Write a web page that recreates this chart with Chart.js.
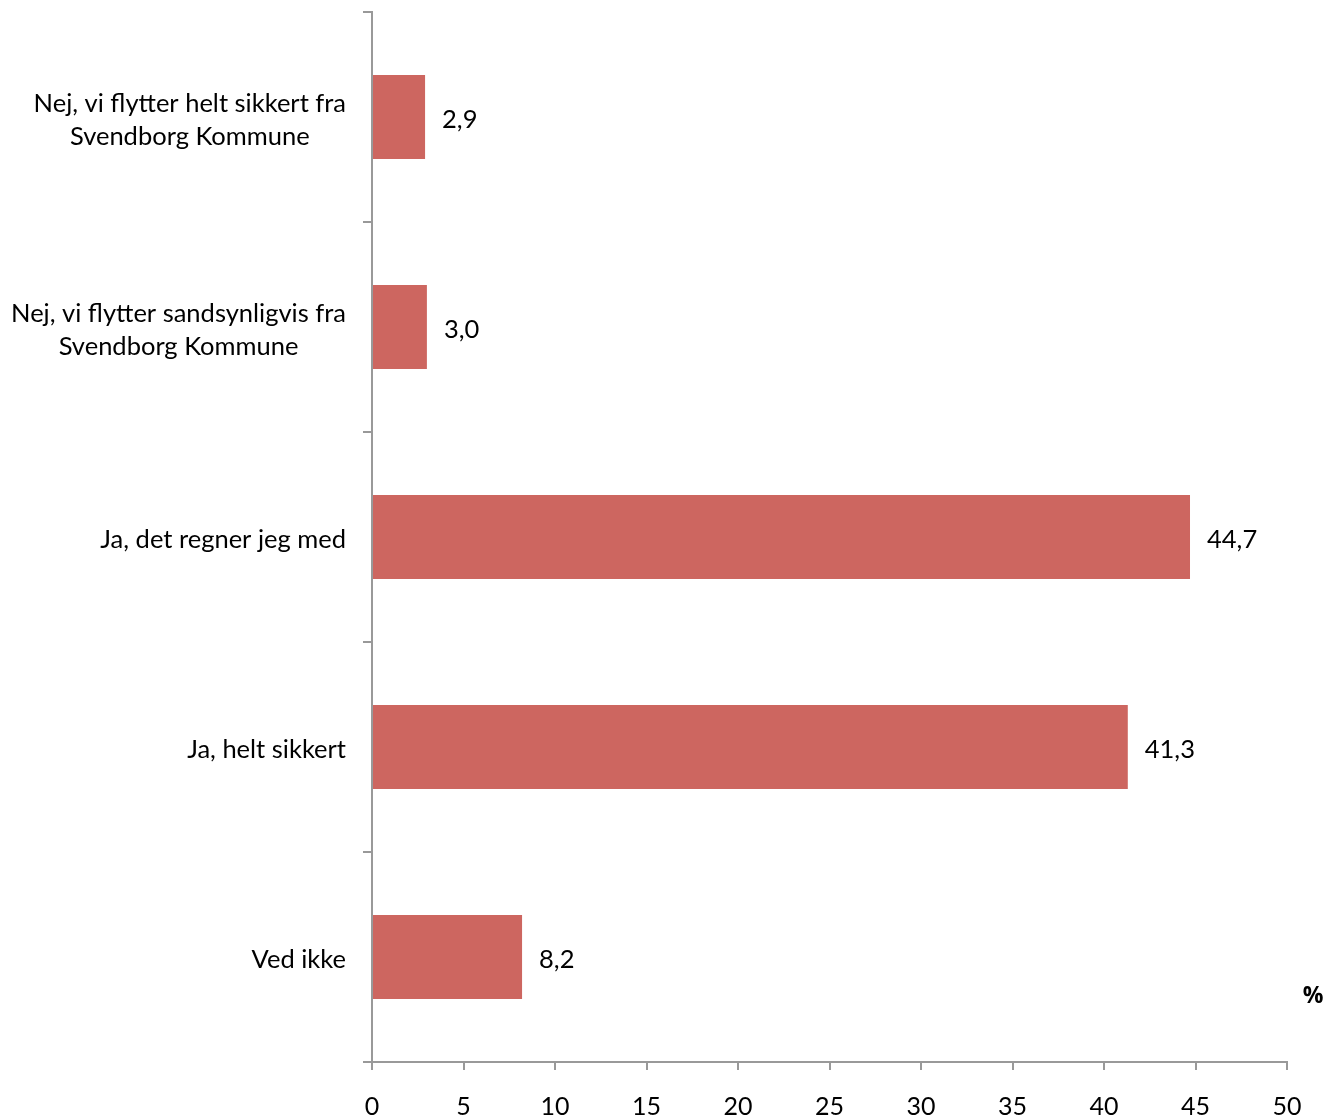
<!DOCTYPE html>
<html>
<head>
<meta charset="utf-8">
<script src="https://cdn.jsdelivr.net/npm/chart.js@4"></script>
<style>
html,body{margin:0;padding:0;background:#fff;}
#wrap{position:relative;width:1327px;height:1120px;}
</style>
</head>
<body>
<div id="wrap"><canvas id="c" width="1327" height="1120"></canvas></div>
<script>
const categories = [
  ["Nej, vi flytter helt sikkert fra", "Svendborg Kommune"],
  ["Nej, vi flytter sandsynligvis fra", "Svendborg Kommune"],
  ["Ja, det regner jeg med"],
  ["Ja, helt sikkert"],
  ["Ved ikke"]
];
const values = [2.9, 3.0, 44.7, 41.3, 8.2];
const xTicks = [0, 5, 10, 15, 20, 25, 30, 35, 40, 45, 50];
const unitLabel = "%";

const FONT = "Lato, 'Open Sans', sans-serif";
const AXIS = "#999999";
const BAR = "#CD6660";

const fmt = v => v.toFixed(1).replace('.', ',');

const labelPlugin = {
  id: 'labels',
  afterDraw(chart) {
    const ctx = chart.ctx;
    const y = chart.scales.y;
    ctx.save();
    ctx.fillStyle = '#000';
    ctx.font = "25.5px " + FONT;
    ctx.textBaseline = 'middle';
    const lh = 33;
    categories.forEach((lines, i) => {
      const cy = y.getPixelForValue(i) + 3;
      let maxW = 0;
      lines.forEach(l => { maxW = Math.max(maxW, ctx.measureText(l).width); });
      const cx = 346 - maxW / 2;
      ctx.textAlign = 'center';
      lines.forEach((l, j) => {
        const off = (j - (lines.length - 1) / 2) * lh;
        ctx.fillText(l, cx, cy + off);
      });
    });
    // value labels
    const meta = chart.getDatasetMeta(0);
    ctx.textAlign = 'left';
    meta.data.forEach((bar, i) => {
      ctx.fillText(fmt(values[i]), bar.x + 17, bar.y + 3);
    });
    // unit label
    ctx.font = "bold 23px 'Open Sans', 'DejaVu Sans', sans-serif";
    ctx.textAlign = 'center';
    ctx.fillText(unitLabel, 1313, 996);
    ctx.restore();
  }
};

new Chart(document.getElementById('c'), {
  type: 'bar',
  data: {
    labels: categories,
    datasets: [{
      data: values,
      backgroundColor: BAR,
      borderWidth: 0,
      categoryPercentage: 1,
      barPercentage: 0.4
    }]
  },
  options: {
    indexAxis: 'y',
    responsive: false,
    animation: false,
    devicePixelRatio: 1,
    layout: { padding: { left: 0, top: 12, right: 40, bottom: 0 } },
    plugins: { legend: { display: false }, tooltip: { enabled: false } },
    scales: {
      x: {
        type: 'linear',
        min: 0, max: 50,
        afterBuildTicks: s => { s.ticks = xTicks.map(v => ({ value: v })); },
        afterFit: s => { s.height = 58; },
        grid: { drawOnChartArea: false, drawTicks: true, tickLength: 8, color: AXIS, lineWidth: 2 },
        border: { color: AXIS, width: 2 },
        ticks: { color: '#000', font: { family: FONT, size: 25 }, padding: 22, maxRotation: 0 }
      },
      y: {
        afterFit: s => { s.width = 372; },
        grid: { drawOnChartArea: false, drawTicks: true, tickLength: 9, color: AXIS, lineWidth: 2, offset: true },
        border: { color: AXIS, width: 2 },
        ticks: { display: false }
      }
    }
  },
  plugins: [labelPlugin]
});
</script>
</body>
</html>
